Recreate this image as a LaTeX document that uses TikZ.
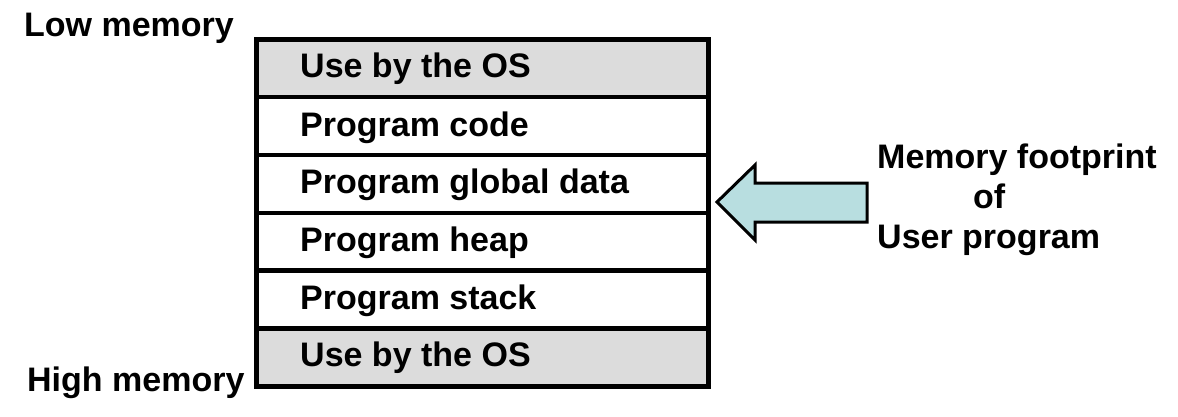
\documentclass[tikz,border=0pt]{standalone}
\usepackage{fontspec}
\setmainfont{Liberation Sans}
\definecolor{osgray}{HTML}{DCDCDC}
\definecolor{arrowblue}{HTML}{B8DEE0}
\begin{document}
\begin{tikzpicture}[x=1pt,y=-1pt,
  rowbox/.style={draw=black,line width=4.5pt,minimum width=452pt,minimum height=57.83pt,inner sep=0pt,anchor=north west},
  osrow/.style={rowbox,fill=osgray},
  userrow/.style={rowbox,fill=white},
  lbl/.style={font=\fontsize{34}{40}\selectfont\bfseries,inner sep=0pt,anchor=base west}]
\useasboundingbox (0,0) rectangle (1178,416);
% rows
\node[osrow]   (r1) at (254,37) {};
\node[userrow] (r2) at (254,94.83) {};
\node[userrow] (r3) at (254,152.67) {};
\node[userrow] (r4) at (254,210.5) {};
\node[userrow] (r5) at (254,268.33) {};
\node[osrow]   (r6) at (254,326.17) {};
% row texts
\node[lbl] (t1) at (300,77) {Use by the OS};
\node[lbl] (t2) at (300,136) {Program code};
\node[lbl] (t3) at (300,193) {Program global data};
\node[lbl] (t4) at (300,251) {Program heap};
\node[lbl] (t5) at (300,309) {Program stack};
\node[lbl] (t6) at (300,366) {Use by the OS};
% side labels
\node[lbl] (low) at (24,36) {Low memory};
\node[lbl] (high) at (27,391) {High memory};
% block arrow
\draw[line width=3pt,fill=arrowblue,line join=miter]
  (717,202) -- (755,165) -- (755,183) -- (867,183) -- (867,222) -- (755,222) -- (755,240) -- cycle;
% footprint text
\node[lbl] (m1) at (877,168) {Memory footprint};
\node[lbl] (m2) at (973,208) {of};
\node[lbl] (m3) at (877,248) {User program};
\end{tikzpicture}
\end{document}
